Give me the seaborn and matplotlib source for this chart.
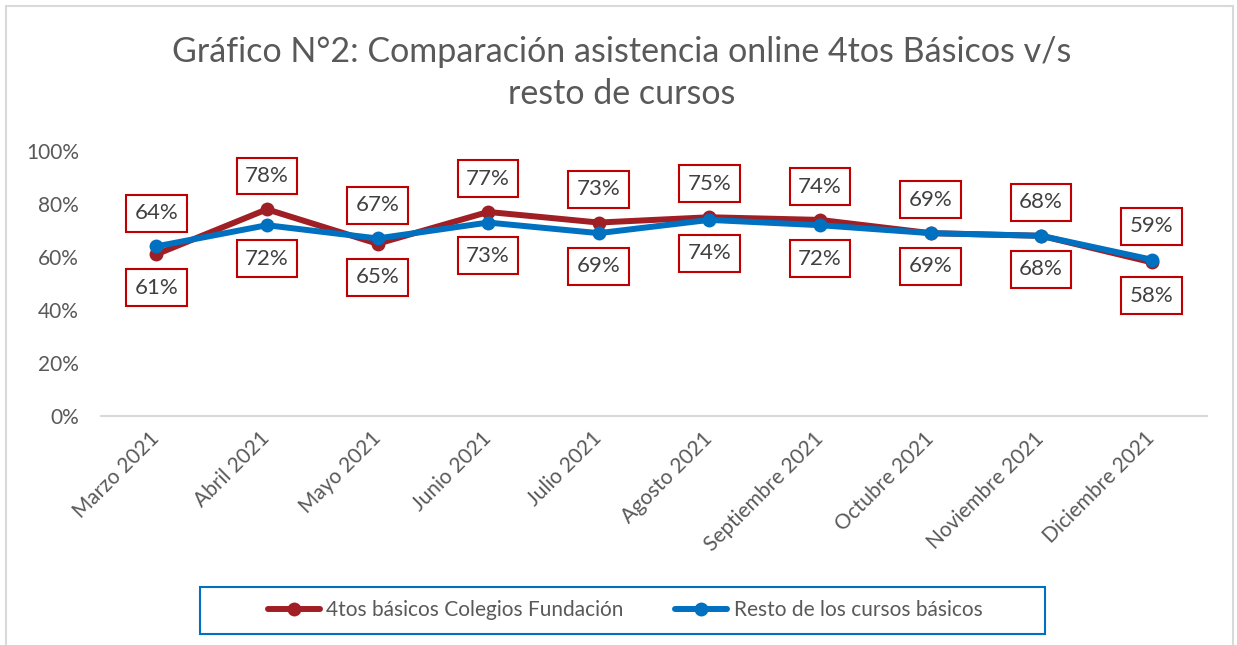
import matplotlib
matplotlib.use("Agg")
import matplotlib.pyplot as plt
import matplotlib.ticker as mtick
from matplotlib.lines import Line2D
from matplotlib.patches import Rectangle
import pandas as pd
import seaborn as sns

# data
months = ["Marzo 2021", "Abril 2021", "Mayo 2021", "Junio 2021", "Julio 2021",
          "Agosto 2021", "Septiembre 2021", "Octubre 2021", "Noviembre 2021",
          "Diciembre 2021"]
cuartos = [0.61, 0.78, 0.65, 0.77, 0.73, 0.75, 0.74, 0.69, 0.68, 0.58]
resto = [0.64, 0.72, 0.67, 0.73, 0.69, 0.74, 0.72, 0.69, 0.68, 0.59]
series_names = ["4tos básicos Colegios Fundación", "Resto de los cursos básicos"]
title = "Gráfico N°2: Comparación asistencia online 4tos Básicos v/s\nresto de cursos"

RED = "#A01F24"
BLUE = "#0070C0"
GRAY = "#595959"

sns.set_theme(style="white")
plt.rcParams["font.family"] = ["Lato", "DejaVu Sans"]

df = pd.DataFrame({
    "mes": months * 2,
    "valor": cuartos + resto,
    "serie": [series_names[0]] * len(months) + [series_names[1]] * len(months),
})

W, H = 1237, 645
fig = plt.figure(figsize=(W / 100, H / 100), dpi=100)
ax = fig.add_axes([101 / W, (H - 416) / H, 1106 / W, 265 / H])

sns.lineplot(data=df, x="mes", y="valor", hue="serie", palette=[RED, BLUE],
             marker="o", markersize=10, markeredgewidth=0, linewidth=4.3,
             sort=False, ax=ax, legend=False)

ax.set_xlim(-0.5, len(months) - 0.5)
ax.set_ylim(0, 1)
ax.set_yticks([0, 0.2, 0.4, 0.6, 0.8, 1.0])
ax.yaxis.set_major_formatter(mtick.PercentFormatter(1.0, decimals=0))
ax.set_xlabel("")
ax.set_ylabel("")
ax.tick_params(axis="both", length=0, labelsize=15, labelcolor=GRAY)
ax.tick_params(axis="y", pad=16)
ax.tick_params(axis="x", pad=14)
for lab in ax.get_xticklabels():
    lab.set_rotation(45)
    lab.set_ha("right")
    lab.set_va("center")
    lab.set_rotation_mode("anchor")
for side in ["left", "right", "top"]:
    ax.spines[side].set_visible(False)
ax.spines["bottom"].set_color("#D9D9D9")
ax.spines["bottom"].set_linewidth(1.5)

# data labels: higher value above, lower value below
box = dict(boxstyle="square,pad=0.38", fc="white", ec="#C00000", lw=1.5)
for i, (a, b) in enumerate(zip(cuartos, resto)):
    hi, lo = max(a, b), min(a, b)
    ax.annotate(f"{hi:.0%}", (i, hi), xytext=(0, 24), textcoords="offset points",
                ha="center", va="center", fontsize=16, color="#404040",
                bbox=box, annotation_clip=False)
    ax.annotate(f"{lo:.0%}", (i, lo), xytext=(0, -24), textcoords="offset points",
                ha="center", va="center", fontsize=16, color="#404040",
                bbox=box, annotation_clip=False)

fig.text(622 / W, 1 - 73 / H, title, ha="center", va="center", fontsize=24.5,
         color=GRAY, linespacing=1.35)

handles = [Line2D([], [], color=c, lw=4.3, marker="o", markersize=10,
                  markeredgewidth=0) for c in (RED, BLUE)]
fig.legend(handles, series_names, loc="center", bbox_to_anchor=(625 / W, 35 / H),
           ncol=2, frameon=False, fontsize=15, handlelength=2.5,
           handletextpad=0.3, columnspacing=2.5, labelcolor=GRAY)

fig.patches.append(Rectangle((200 / W, 11 / H), 845 / W, 47 / H, transform=fig.transFigure,
                             fill=False, ec=BLUE, lw=1.5))
fig.patches.append(Rectangle((6 / W, -0.1), 1227 / W, 1.1 - 6 / H, transform=fig.transFigure,
                             fill=False, ec="#D9D9D9", lw=1.5))

fig.savefig("out.png", dpi=100)
